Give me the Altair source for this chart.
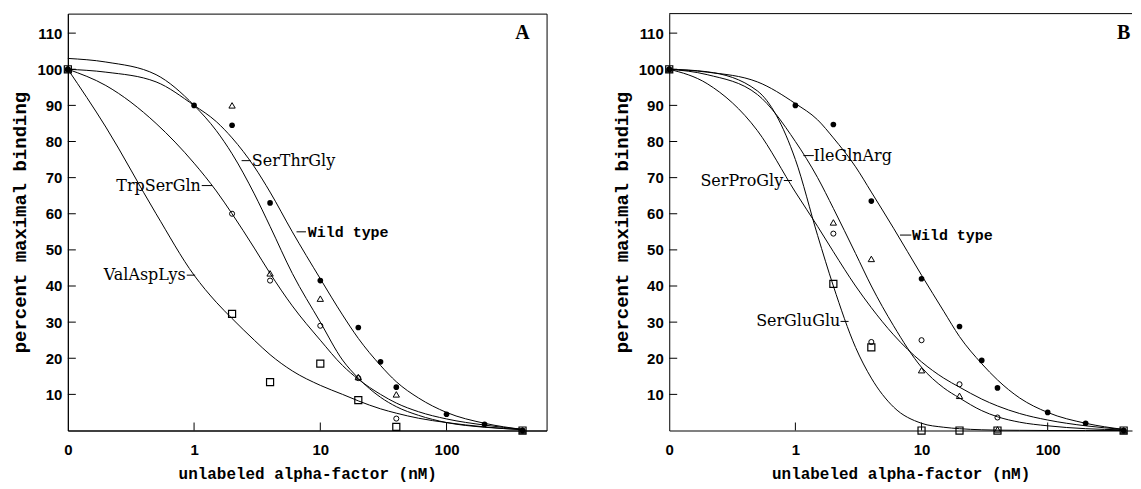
import altair as alt
import pandas as pd

# ---------------- data ----------------
CURVE_X = [0.1, 0.2, 0.5, 1, 1.5, 2, 3, 4, 6, 10, 15, 20, 30, 40, 60, 100, 200, 400]

# Panel A fitted curves
A_WT_CURVE = [100, 99.2, 96.5, 90, 85.5, 81, 73, 66, 55, 42, 32, 25.5, 18, 13.5, 9, 5, 2, 0.3]
A_STG_CURVE = [103, 102, 98.5, 90, 83, 76.6, 65.5, 56.5, 43.5, 30, 19.5, 14.5, 9.2, 6.6, 4.2, 2.2, 0.9, 0.3]
A_TSG_CURVE = [100, 95.5, 85, 74, 66.3, 60, 50.5, 43.5, 34.5, 25, 18, 14.2, 10, 7.6, 5.2, 3.2, 1.5, 0.3]
A_VAL_CURVE = [100, 84, 60, 43, 35.5, 31, 25, 21, 16.5, 12.5, 10, 8.2, 6, 4.8, 3.4, 2.2, 1, 0.2]

# Panel B fitted curves
B_WT_CURVE = [100, 99.2, 96.5, 90.5, 86, 81, 73, 66, 56, 43, 33, 26, 18.5, 14, 9, 5, 2, 0.3]
B_IGA_CURVE = [100, 98.5, 93, 80, 70, 61.5, 49, 40, 29, 17.5, 11.8, 9, 5.5, 3.8, 2.3, 1.3, 0.5, 0.2]
B_SPG_CURVE = [100, 96, 83, 66, 56.5, 49.5, 40, 34, 26.5, 19, 14.5, 12, 8.7, 6.8, 4.7, 2.9, 1.3, 0.3]
B_SGG_CURVE = [100, 99.3, 94, 75, 54, 40, 23, 14.5, 6.5, 2, 0.9, 0.5, 0.2, 0.1, 0.05, 0, 0, 0]

# measured points ("0" concentration drawn at the left edge, 0.1)
WT_X = [0.1, 1, 2, 4, 10, 20, 30, 40, 100, 200, 400]
MUT_X = [0.1, 2, 4, 10, 20, 40, 400]

A_WT_PTS = [100, 90, 84.5, 63, 41.5, 28.5, 19, 12, 4.5, 1.7, 0]
A_TRI_PTS = [100, 90, 43.5, 36.5, 14.8, 10, 0]      # SerThrGly
A_CIR_PTS = [100, 60, 41.5, 29, 14.5, 3.3, 0]       # TrpSerGln
A_SQR_PTS = [100, 32.3, 13.4, 18.5, 8.4, 1, 0]      # ValAspLys

B_WT_PTS = [100, 90, 84.7, 63.5, 42, 28.8, 19.4, 11.8, 5, 2, 0]
B_TRI_PTS = [100, 57.6, 47.5, 16.7, 9.6, 0.3, 0]    # IleGlnArg
B_CIR_PTS = [100, 54.5, 24.5, 25, 12.8, 3.6, 0]     # SerProGly
B_SQR_PTS = [100, 40.6, 23, 0, 0, 0, 0]             # SerGluGlu

# curve labels: text, x, y, alignment, leader x-start, leader x-end
A_LABELS = ["SerThrGly", "TrpSerGln", "ValAspLys", "Wild type"]
A_LAB_X = [2.87, 1.13, 0.86, 7.96]
A_LAB_Y = [74.7, 67.8, 43.0, 55.0]
A_LAB_ALIGN = ["left", "right", "right", "left"]
A_LEAD_X1 = [2.38, 1.15, 0.875, 6.48]
A_LEAD_X2 = [2.80, 1.39, 1.02, 7.70]

B_LABELS = ["IleGlnArg", "SerProGly", "SerGluGlu", "Wild type"]
B_LAB_X = [1.395, 0.80, 2.27, 8.4]
B_LAB_Y = [76.1, 69.2, 30.2, 54.1]
B_LAB_ALIGN = ["left", "right", "right", "left"]
B_LEAD_X1 = [1.157, 0.81, 2.28, 6.75]
B_LEAD_X2 = [1.40, 0.94, 2.64, 8.3]

Y_TICKS = [10, 20, 30, 40, 50, 60, 70, 80, 90, 100, 110]
X_TICKS = [1, 10, 100]
X_LABEL_VALUES = [0.1, 1, 10, 100]

H = 418
SERIF = "DejaVu Serif"
MONO = "Liberation Mono"
SANS = "Liberation Sans"


def build_panel(curves, wt_pts, tri_pts, cir_pts, sqr_pts, labels, lab_x, lab_y,
                lab_align, lead1, lead2, letter, xmax, width, top_rule):
    xaxis = alt.Axis(values=X_LABEL_VALUES,
                     labelExpr="datum.value < 0.5 ? '0' : format(datum.value, 'd')",
                     title="unlabeled alpha-factor (nM)", grid=False, ticks=False,
                     tickSize=0, labelFlush=False, labelPadding=12,
                     labelFont=SANS, labelFontWeight="bold", labelFontSize=15,
                     labelColor="black", titleFont=MONO, titleFontWeight="bold",
                     titleFontSize=16, titleColor="black", titlePadding=8,
                     domainColor="black", domainWidth=1)
    yaxis = alt.Axis(values=Y_TICKS, title="percent maximal binding", grid=False,
                     ticks=False, tickSize=0, labelPadding=6, labelFont=SANS,
                     labelFontWeight="bold", labelFontSize=15, labelColor="black",
                     titleFont=MONO, titleFontWeight="bold", titleFontSize=19,
                     titleColor="black", titlePadding=7, domainColor="black",
                     domainWidth=1)
    xs = alt.Scale(type="log", domain=[0.1, xmax], nice=False)
    ys = alt.Scale(domain=[0, 115.4], nice=False)

    def X(field="x"):
        return alt.X(field, type="quantitative", scale=xs, axis=xaxis)

    def Y(field="y"):
        return alt.Y(field, type="quantitative", scale=ys, axis=yaxis)

    rows = []
    for name, vals in curves.items():
        for xv, yv in zip(CURVE_X, vals):
            rows.append({"x": xv, "y": yv, "series": name})
    curve_df = pd.DataFrame(rows)

    lines = alt.Chart(curve_df).mark_line(
        color="black", strokeWidth=1, interpolate="monotone", clip=False
    ).encode(x=X(), y=Y(), detail="series:N")

    def pts(xv, yv):
        return pd.DataFrame({"x": xv, "y": yv})

    filled = alt.Chart(pts(WT_X, wt_pts)).mark_point(
        shape="circle", filled=True, color="black", size=32, opacity=1
    ).encode(x=X(), y=Y())
    tri = alt.Chart(pts(MUT_X, tri_pts)).mark_point(
        shape="triangle-up", filled=False, color="black", size=40, strokeWidth=1, opacity=1
    ).encode(x=X(), y=Y())
    cir = alt.Chart(pts(MUT_X, cir_pts)).mark_point(
        shape="circle", filled=False, color="black", size=26, strokeWidth=1, opacity=1
    ).encode(x=X(), y=Y())
    sqr = alt.Chart(pts(MUT_X, sqr_pts)).mark_point(
        shape="square", filled=False, color="black", size=50, strokeWidth=1.2, opacity=1
    ).encode(x=X(), y=Y())

    ytick_rules = alt.Chart(pd.DataFrame({"y": Y_TICKS})).mark_rule(
        color="black", strokeWidth=1
    ).encode(y=Y(), x=alt.value(0), x2=alt.value(8))
    xtick_rules = alt.Chart(pd.DataFrame({"x": X_TICKS})).mark_rule(
        color="black", strokeWidth=1
    ).encode(x=X(), y=alt.value(H), y2=alt.value(H - 8))

    lab_df = pd.DataFrame({"x": lab_x, "y": lab_y, "text": labels, "align": lab_align})
    lab_layers = []
    for al in ["left", "right"]:
        for is_wt in [False, True]:
            sub = lab_df[(lab_df["align"] == al) & ((lab_df["text"] == "Wild type") == is_wt)]
            if len(sub) == 0:
                continue
            if is_wt:
                mk = alt.Chart(sub).mark_text(align=al, baseline="middle", font=MONO,
                                              fontWeight="bold", fontSize=15, color="black")
            else:
                mk = alt.Chart(sub).mark_text(align=al, baseline="middle", font=SERIF,
                                              fontSize=16, color="black")
            lab_layers.append(mk.encode(x=X(), y=Y(), text="text:N"))

    lead_df = pd.DataFrame({"x": lead1, "x2": lead2, "y": lab_y})
    leaders = alt.Chart(lead_df).mark_rule(color="black", strokeWidth=1).encode(
        x=X(), x2="x2", y=Y()
    )

    letter_df = pd.DataFrame({"x": [400], "y": [110], "text": [letter]})
    letter_mark = alt.Chart(letter_df).mark_text(
        align="center", baseline="middle", font="Liberation Serif", fontWeight="bold",
        fontSize=20, color="black"
    ).encode(x=X(), y=Y(), text="text:N")

    layers = [lines, ytick_rules, xtick_rules, leaders, filled, tri, cir, sqr] + lab_layers + [letter_mark]
    if top_rule:
        layers.append(
            alt.Chart(pd.DataFrame({"y": [115.4]})).mark_rule(color="black", strokeWidth=1)
            .encode(y=Y(), x=alt.value(0), x2=alt.value(width))
        )
        ch = alt.layer(*layers).properties(width=width, height=H,
                                           view=alt.ViewBackground(stroke="transparent"))
    else:
        ch = alt.layer(*layers).properties(width=width, height=H)
    return ch


panel_a = build_panel(
    {"Wild type": A_WT_CURVE, "SerThrGly": A_STG_CURVE,
     "TrpSerGln": A_TSG_CURVE, "ValAspLys": A_VAL_CURVE},
    A_WT_PTS, A_TRI_PTS, A_CIR_PTS, A_SQR_PTS,
    A_LABELS, A_LAB_X, A_LAB_Y, A_LAB_ALIGN, A_LEAD_X1, A_LEAD_X2,
    "A", 620, 480, False)

panel_b = build_panel(
    {"Wild type": B_WT_CURVE, "IleGlnArg": B_IGA_CURVE,
     "SerProGly": B_SPG_CURVE, "SerGluGlu": B_SGG_CURVE},
    B_WT_PTS, B_TRI_PTS, B_CIR_PTS, B_SQR_PTS,
    B_LABELS, B_LAB_X, B_LAB_Y, B_LAB_ALIGN, B_LEAD_X1, B_LEAD_X2,
    "B", 466, 464, True)

chart = alt.hconcat(panel_a, panel_b, spacing=64).properties(
    padding={"left": 2, "top": 4, "right": 0, "bottom": 0},
    background="white",
).configure_view(stroke="black", strokeWidth=1)

chart.save("out.html", embed_options={"renderer": "svg", "actions": False})
